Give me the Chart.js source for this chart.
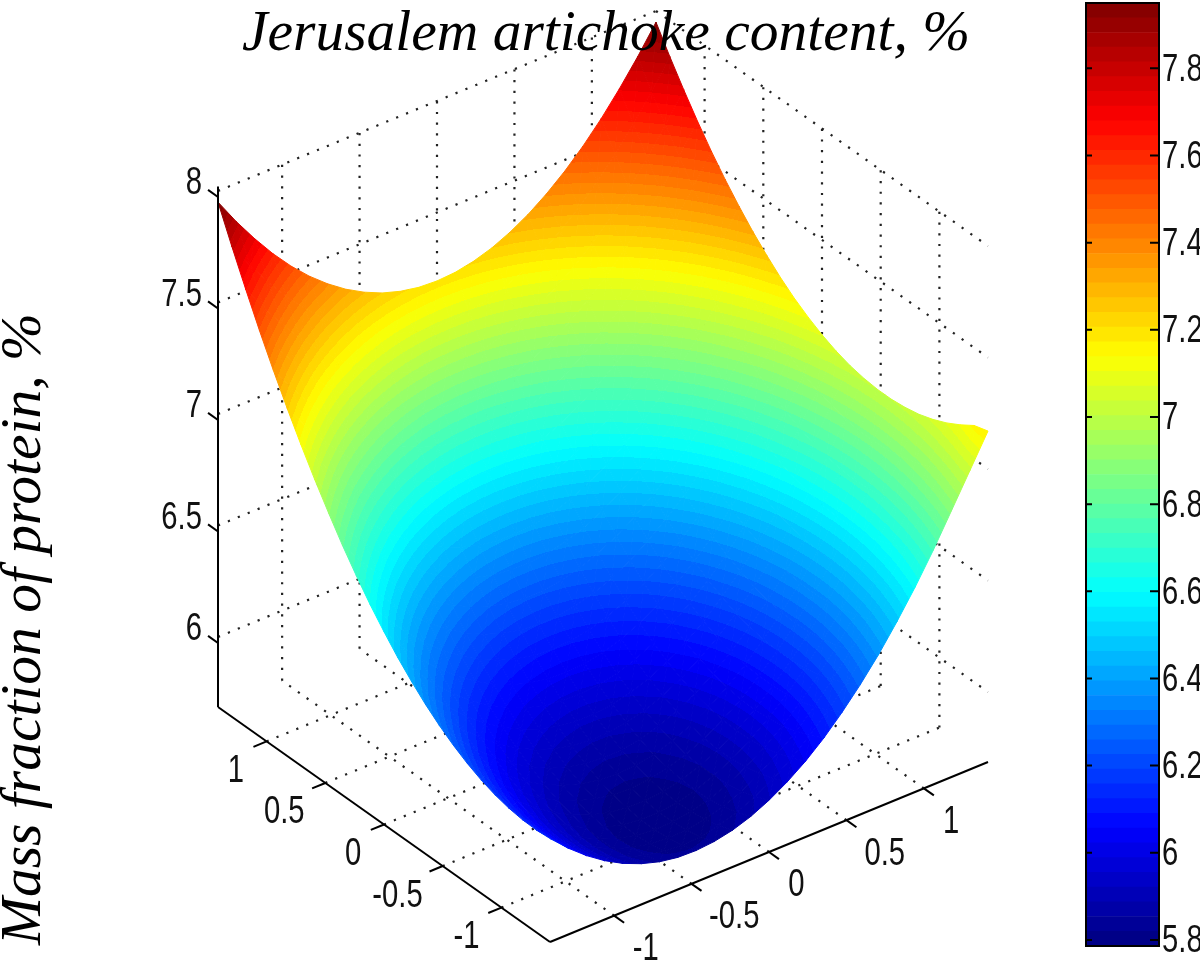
<!DOCTYPE html>
<html>
<head>
<meta charset="utf-8">
<title>Mass fraction of protein</title>
<script src="https://cdn.jsdelivr.net/npm/chart.js@4/dist/chart.umd.js"></script>
<style>
    html, body { margin: 0; padding: 0; background: #fff; overflow: hidden; }
    canvas { position: absolute; top: 0; display: block; }
    #surfaceChart { left: 0; }
    #colorbarChart { left: 1060px; }
</style>
</head>
<body>
<canvas id="surfaceChart" width="1200" height="967"></canvas>
<canvas id="colorbarChart" width="140" height="967"></canvas>
<script>
// Surface values
const aValues = [-1.414, -1.296, -1.178, -1.061, -0.943, -0.825, -0.707, -0.589, -0.471, -0.354, -0.236, -0.118, 0,
    0.118, 0.236, 0.354, 0.471, 0.589, 0.707, 0.825, 0.943, 1.061, 1.178, 1.296, 1.414];
const bValues = [-1.414, -1.296, -1.178, -1.061, -0.943, -0.825, -0.707, -0.589, -0.471, -0.354, -0.236, -0.118, 0,
    0.118, 0.236, 0.354, 0.471, 0.589, 0.707, 0.825, 0.943, 1.061, 1.178, 1.296, 1.414];
const surfaceZ = [
    [6.150, 6.073, 6.006, 5.950, 5.904, 5.869, 5.844, 5.830, 5.827, 5.834, 5.851, 5.879, 5.918, 5.967, 6.026, 6.096, 6.177, 6.268, 6.369, 6.482, 6.604, 6.737, 6.880, 7.025, 7.170],
    [6.145, 6.066, 5.998, 5.940, 5.892, 5.855, 5.829, 5.813, 5.807, 5.812, 5.828, 5.854, 5.891, 5.938, 5.996, 6.064, 6.143, 6.232, 6.332, 6.442, 6.563, 6.694, 6.836, 6.988, 7.151],
    [6.147, 6.066, 5.996, 5.936, 5.887, 5.848, 5.820, 5.802, 5.795, 5.798, 5.812, 5.836, 5.871, 5.916, 5.972, 6.039, 6.116, 6.203, 6.301, 6.409, 6.528, 6.658, 6.798, 6.949, 7.110],
    [6.156, 6.074, 6.001, 5.940, 5.889, 5.848, 5.818, 5.798, 5.789, 5.791, 5.803, 5.825, 5.858, 5.902, 5.956, 6.020, 6.095, 6.181, 6.277, 6.384, 6.501, 6.629, 6.767, 6.916, 7.075],
    [6.172, 6.088, 6.014, 5.950, 5.897, 5.855, 5.823, 5.801, 5.791, 5.790, 5.800, 5.821, 5.852, 5.894, 5.946, 6.009, 6.082, 6.166, 6.260, 6.365, 6.481, 6.606, 6.743, 6.890, 7.047],
    [6.195, 6.109, 6.033, 5.968, 5.913, 5.869, 5.835, 5.812, 5.799, 5.797, 5.805, 5.824, 5.853, 5.893, 5.944, 6.005, 6.076, 6.158, 6.250, 6.353, 6.467, 6.591, 6.726, 6.871, 7.026],
    [6.225, 6.137, 6.059, 5.992, 5.935, 5.889, 5.854, 5.829, 5.814, 5.810, 5.817, 5.834, 5.861, 5.899, 5.948, 6.007, 6.077, 6.157, 6.248, 6.349, 6.460, 6.583, 6.715, 6.859, 7.013],
    [6.262, 6.172, 6.092, 6.023, 5.965, 5.917, 5.880, 5.853, 5.836, 5.831, 5.835, 5.850, 5.876, 5.912, 5.959, 6.016, 6.084, 6.163, 6.252, 6.351, 6.461, 6.581, 6.712, 6.854, 7.006],
    [6.306, 6.214, 6.132, 6.062, 6.001, 5.952, 5.912, 5.884, 5.866, 5.858, 5.861, 5.874, 5.898, 5.932, 5.977, 6.033, 6.099, 6.175, 6.262, 6.360, 6.468, 6.587, 6.716, 6.855, 7.006],
    [6.356, 6.263, 6.179, 6.107, 6.045, 5.993, 5.952, 5.922, 5.902, 5.892, 5.893, 5.905, 5.927, 5.959, 6.003, 6.056, 6.120, 6.195, 6.280, 6.376, 6.482, 6.599, 6.726, 6.864, 7.013],
    [6.414, 6.318, 6.233, 6.159, 6.095, 6.042, 5.999, 5.967, 5.945, 5.933, 5.933, 5.942, 5.963, 5.993, 6.035, 6.087, 6.149, 6.222, 6.305, 6.399, 6.503, 6.618, 6.744, 6.880, 7.026],
    [6.478, 6.381, 6.294, 6.218, 6.152, 6.097, 6.053, 6.018, 5.995, 5.982, 5.979, 5.987, 6.005, 6.034, 6.074, 6.124, 6.184, 6.255, 6.337, 6.429, 6.532, 6.645, 6.768, 6.903, 7.047],
    [6.550, 6.451, 6.362, 6.284, 6.217, 6.160, 6.113, 6.077, 6.052, 6.037, 6.032, 6.038, 6.055, 6.082, 6.120, 6.168, 6.227, 6.296, 6.376, 6.466, 6.567, 6.678, 6.800, 6.932, 7.075],
    [6.628, 6.528, 6.437, 6.357, 6.288, 6.229, 6.181, 6.143, 6.116, 6.099, 6.093, 6.097, 6.112, 6.137, 6.173, 6.219, 6.276, 6.343, 6.421, 6.510, 6.609, 6.718, 6.838, 6.969, 7.110],
    [6.714, 6.611, 6.519, 6.437, 6.366, 6.305, 6.255, 6.216, 6.186, 6.168, 6.160, 6.162, 6.175, 6.199, 6.233, 6.277, 6.332, 6.398, 6.474, 6.561, 6.658, 6.765, 6.883, 7.012, 7.151],
    [6.806, 6.702, 6.608, 6.524, 6.451, 6.389, 6.337, 6.295, 6.264, 6.244, 6.234, 6.234, 6.246, 6.267, 6.299, 6.342, 6.395, 6.459, 6.533, 6.618, 6.714, 6.819, 6.936, 7.063, 7.200],
    [6.906, 6.799, 6.703, 6.618, 6.543, 6.479, 6.425, 6.382, 6.349, 6.327, 6.315, 6.314, 6.323, 6.343, 6.373, 6.414, 6.466, 6.527, 6.600, 6.683, 6.776, 6.880, 6.995, 7.120, 7.256],
    [7.012, 6.904, 6.806, 6.719, 6.642, 6.576, 6.520, 6.475, 6.441, 6.416, 6.403, 6.400, 6.407, 6.425, 6.454, 6.493, 6.543, 6.603, 6.673, 6.755, 6.846, 6.948, 7.061, 7.184, 7.318],
    [7.125, 7.015, 6.915, 6.826, 6.748, 6.680, 6.623, 6.576, 6.539, 6.513, 6.498, 6.493, 6.499, 6.515, 6.542, 6.579, 6.627, 6.685, 6.754, 6.833, 6.923, 7.023, 7.134, 7.256, 7.388],
    [7.245, 7.133, 7.032, 6.941, 6.861, 6.791, 6.732, 6.683, 6.645, 6.617, 6.600, 6.593, 6.597, 6.611, 6.636, 6.672, 6.718, 6.774, 6.841, 6.919, 7.007, 7.105, 7.214, 7.334, 7.464],
    [7.372, 7.259, 7.155, 7.063, 6.981, 6.909, 6.848, 6.797, 6.757, 6.728, 6.709, 6.700, 6.702, 6.715, 6.738, 6.771, 6.816, 6.870, 6.935, 7.011, 7.097, 7.194, 7.301, 7.419, 7.547],
    [7.506, 7.391, 7.286, 7.191, 7.107, 7.034, 6.971, 6.919, 6.877, 6.845, 6.824, 6.814, 6.814, 6.825, 6.846, 6.878, 6.920, 6.973, 7.037, 7.110, 7.195, 7.290, 7.395, 7.511, 7.638],
    [7.647, 7.530, 7.423, 7.327, 7.241, 7.166, 7.101, 7.047, 7.003, 6.970, 6.947, 6.935, 6.933, 6.942, 6.962, 6.992, 7.032, 7.083, 7.145, 7.217, 7.299, 7.392, 7.496, 7.610, 7.735],
    [7.795, 7.676, 7.567, 7.469, 7.382, 7.305, 7.238, 7.182, 7.136, 7.101, 7.077, 7.063, 7.060, 7.067, 7.084, 7.112, 7.151, 7.200, 7.260, 7.330, 7.411, 7.502, 7.604, 7.716, 7.839],
    [7.950, 7.829, 7.719, 7.619, 7.529, 7.450, 7.382, 7.324, 7.277, 7.240, 7.214, 7.198, 7.193, 7.198, 7.214, 7.240, 7.277, 7.324, 7.382, 7.450, 7.529, 7.619, 7.719, 7.829, 7.950]
];

// Axis ticks
const aTicks = [-1, -0.5, 0, 0.5, 1];
const bTicks = [-1, -0.5, 0, 0.5, 1];
const zTicks = [6, 6.5, 7, 7.5, 8];
const colorbarTicks = [5.8, 6, 6.2, 6.4, 6.6, 6.8, 7, 7.2, 7.4, 7.6, 7.8];

const titleText = 'Jerusalem artichoke content, %';
const zAxisText = 'Mass fraction of protein, %';

// Box limits and colour limits
const AB_LIMIT = 1.414;
const Z_FLOOR = 5.686;
const Z_TOP = 8.02;
const C_MIN = 5.786;
const C_MAX = 7.95;
const LEVELS = 64;

const TICK_FONT = '38px "Liberation Sans", Arial, sans-serif';
const LABEL_FONT = 'italic 57.5px "Liberation Serif", "Times New Roman", serif';
const TICK_SQUEEZE = 0.77;

// The 3D view, fixed by the corners of the box in the picture
function project(a, b, z) {
    const p = (a + AB_LIMIT) / (2 * AB_LIMIT);
    const q = (b + AB_LIMIT) / (2 * AB_LIMIT);
    return {
        x: 550 - 332 * p + 438 * q,
        y: 942 - 235 * p - 180 * q - 223 * (z - Z_FLOOR)
    };
}

// MATLAB jet colormap
function jetColor(level) {
    const t = (level + 0.5) / LEVELS;
    const channel = v => Math.round(255 * Math.max(0, Math.min(1, 1.5 - Math.abs(4 * t - v))));
    return `rgb(${channel(3)}, ${channel(2)}, ${channel(1)})`;
}

function levelOf(z) {
    const level = Math.floor((z - C_MIN) / (C_MAX - C_MIN) * LEVELS);
    return Math.max(0, Math.min(LEVELS - 1, level));
}

function levelBottom(level) {
    return C_MIN + (C_MAX - C_MIN) * level / LEVELS;
}

// One triangle of the surface: a gradient along the slope of z in screen space,
// cut into the 64 colour levels
function triangleFill(context) {
    const chart = context.chart;
    const ds = context.dataset;
    const zs = ds.zs;
    const mean = (zs[0] + zs[1] + zs[2]) / 3;
    if (!chart.chartArea) return jetColor(levelOf(mean));

    const px = ds.data.slice(0, 3).map(pt => ({
        x: chart.scales.x.getPixelForValue(pt.x),
        y: chart.scales.y.getPixelForValue(pt.y)
    }));
    const dx1 = px[1].x - px[0].x, dy1 = px[1].y - px[0].y, dz1 = zs[1] - zs[0];
    const dx2 = px[2].x - px[0].x, dy2 = px[2].y - px[0].y, dz2 = zs[2] - zs[0];
    const det = dx1 * dy2 - dx2 * dy1;
    const zLow = Math.min(...zs);
    const zHigh = Math.max(...zs);
    if (Math.abs(det) < 0.01 || levelOf(zLow) === levelOf(zHigh)) return jetColor(levelOf(mean));

    const gx = (dz1 * dy2 - dz2 * dy1) / det;
    const gy = (dx1 * dz2 - dx2 * dz1) / det;
    const g2 = gx * gx + gy * gy;
    const grad = chart.ctx.createLinearGradient(
        px[0].x + (zLow - zs[0]) * gx / g2, px[0].y + (zLow - zs[0]) * gy / g2,
        px[0].x + (zHigh - zs[0]) * gx / g2, px[0].y + (zHigh - zs[0]) * gy / g2
    );
    const range = zHigh - zLow;
    for (let level = levelOf(zLow); level <= levelOf(zHigh); level++) {
        const from = Math.max(0, (levelBottom(level) - zLow) / range);
        const to = Math.min(1, (levelBottom(level + 1) - zLow) / range);
        grad.addColorStop(from, jetColor(level));
        grad.addColorStop(to, jetColor(level));
    }
    return grad;
}

function triangleDataset(corners) {
    const points = corners.map(c => project(aValues[c[0]], bValues[c[1]], surfaceZ[c[0]][c[1]]));
    return {
        data: [...points, points[0]],
        zs: corners.map(c => surfaceZ[c[0]][c[1]]),
        showLine: true,
        fill: 'shape',
        tension: 0,
        pointRadius: 0,
        borderWidth: 1,
        backgroundColor: triangleFill,
        borderColor: triangleFill
    };
}

function solidLine(from, to) {
    return {
        data: [project(...from), project(...to)],
        showLine: true,
        tension: 0,
        pointRadius: 0,
        borderWidth: 2,
        borderColor: '#000'
    };
}

function dottedLine(from, to) {
    return {
        data: [project(...from), project(...to)],
        showLine: true,
        tension: 0,
        pointRadius: 0,
        borderWidth: 2.2,
        borderColor: '#222',
        borderDash: [2.2, 8.5]
    };
}

function buildDatasets() {
    const L = AB_LIMIT;
    const datasets = [];
    const tickLen = 0.085;

    // Axes and ticks go first so they are drawn on top
    datasets.push(solidLine([L, -L, Z_FLOOR], [L, -L, Z_TOP]));
    datasets.push(solidLine([L, -L, Z_FLOOR], [-L, -L, Z_FLOOR]));
    datasets.push(solidLine([-L, -L, Z_FLOOR], [-L, L, Z_FLOOR]));
    zTicks.forEach(z => datasets.push(solidLine([L, -L, z - 0.027], [L + tickLen, -L, z - 0.027])));
    aTicks.forEach(a => datasets.push(solidLine([a, -L, Z_FLOOR], [a, -L - tickLen, Z_FLOOR])));
    bTicks.forEach(b => datasets.push(solidLine([-L, b, Z_FLOOR], [-L - tickLen, b, Z_FLOOR])));

    // Nearest cell first, the chart paints datasets from last to first
    for (let i = 0; i < aValues.length - 1; i++) {
        for (let j = 0; j < bValues.length - 1; j++) {
            datasets.push(triangleDataset([[i, j], [i + 1, j], [i + 1, j + 1]]));
            datasets.push(triangleDataset([[i, j], [i + 1, j + 1], [i, j + 1]]));
        }
    }

    // Dotted box grid, behind everything
    zTicks.forEach(z => {
        datasets.push(dottedLine([L, -L, z], [L, L, z]));
        datasets.push(dottedLine([L, L, z], [-L, L, z]));
    });
    bTicks.forEach(b => {
        datasets.push(dottedLine([L, b, Z_FLOOR], [L, b, Z_TOP]));
        datasets.push(dottedLine([-L, b, Z_FLOOR], [L, b, Z_FLOOR]));
    });
    aTicks.forEach(a => {
        datasets.push(dottedLine([a, L, Z_FLOOR], [a, L, Z_TOP]));
        datasets.push(dottedLine([a, -L, Z_FLOOR], [a, L, Z_FLOOR]));
    });
    return datasets;
}

// Tick digits in the picture are narrow and tall
function drawTickText(ctx, text, x, y, align) {
    ctx.save();
    ctx.translate(x, y);
    ctx.scale(TICK_SQUEEZE, 1);
    ctx.font = TICK_FONT;
    ctx.fillStyle = '#111';
    ctx.textAlign = align;
    ctx.textBaseline = 'middle';
    ctx.fillText(text, 0, 0);
    ctx.restore();
}

function tickTextWidth(ctx, text) {
    ctx.save();
    ctx.font = TICK_FONT;
    const w = ctx.measureText(text).width * TICK_SQUEEZE;
    ctx.restore();
    return w;
}

// Titles and the tick labels of the 3D axes
const surfaceText = {
    id: 'surfaceText',
    afterDraw(chart) {
        const ctx = chart.ctx;
        const sx = v => chart.scales.x.getPixelForValue(v);
        const sy = v => chart.scales.y.getPixelForValue(v);
        ctx.save();
        ctx.fillStyle = '#000';
        ctx.font = LABEL_FONT;
        ctx.textAlign = 'left';
        ctx.textBaseline = 'alphabetic';
        ctx.fillText(titleText, 242, 50);

        ctx.translate(40, 945);
        ctx.rotate(-Math.PI / 2);
        ctx.fillText(zAxisText, 0, 0);
        ctx.restore();

        zTicks.forEach(z => {
            const pos = project(AB_LIMIT, -AB_LIMIT, z);
            drawTickText(ctx, String(z), sx(pos.x) - 16, sy(pos.y) - 7, 'right');
        });
        aTicks.forEach(a => {
            const pos = project(a, -AB_LIMIT, Z_FLOOR);
            const w = tickTextWidth(ctx, String(a));
            drawTickText(ctx, String(a), sx(pos.x) - 24 - 0.42 * w, sy(pos.y) + 30, 'center');
        });
        bTicks.forEach(b => {
            const pos = project(-AB_LIMIT, b, Z_FLOOR);
            const w = tickTextWidth(ctx, String(b));
            drawTickText(ctx, String(b), sx(pos.x) + 20 + 0.45 * w, sy(pos.y) + 34, 'center');
        });
    }
};

new Chart(document.getElementById('surfaceChart').getContext('2d'), {
    type: 'scatter',
    data: { datasets: buildDatasets() },
    options: {
        responsive: false,
        animation: false,
        events: [],
        layout: { padding: 0 },
        plugins: { legend: { display: false }, tooltip: { enabled: false } },
        scales: {
            x: { type: 'linear', display: false, min: 0, max: 1200 },
            y: { type: 'linear', display: false, min: 0, max: 967, reverse: true }
        }
    },
    plugins: [surfaceText]
});

// Colorbar: one floating bar per colour level
const colorbarDatasets = [];
for (let level = 0; level < LEVELS; level++) {
    colorbarDatasets.push({
        data: [[levelBottom(level), levelBottom(level + 1)]],
        backgroundColor: jetColor(level),
        borderWidth: 0,
        barPercentage: 1,
        categoryPercentage: 1,
        grouped: false
    });
}

const colorbarFrame = {
    id: 'colorbarFrame',
    afterDatasetsDraw(chart) {
        const ctx = chart.ctx;
        const area = chart.chartArea;
        const y = chart.scales.y;
        ctx.save();
        ctx.strokeStyle = '#000';
        ctx.lineWidth = 2;
        ctx.strokeRect(area.left, area.top, area.right - area.left, area.bottom - area.top);
        colorbarTicks.forEach(v => {
            const py = y.getPixelForValue(v);
            ctx.beginPath();
            ctx.moveTo(area.left, py);
            ctx.lineTo(area.left + 6, py);
            ctx.moveTo(area.right - 9, py);
            ctx.lineTo(area.right, py);
            ctx.stroke();
            drawTickText(ctx, String(v), area.right + 3, py + 2, 'left');
        });
        ctx.restore();
    }
};

new Chart(document.getElementById('colorbarChart').getContext('2d'), {
    type: 'bar',
    data: { labels: [''], datasets: colorbarDatasets },
    options: {
        responsive: false,
        animation: false,
        events: [],
        layout: { padding: { left: 26, top: 3, bottom: 21, right: 0 } },
        plugins: { legend: { display: false }, tooltip: { enabled: false } },
        scales: {
            x: { display: false },
            y: {
                position: 'right',
                min: C_MIN,
                max: C_MAX,
                grid: { display: false },
                border: { display: false },
                ticks: { display: false },
                afterFit: scale => { scale.width = 41; }
            }
        }
    },
    plugins: [colorbarFrame]
});
</script>
</body>
</html>
